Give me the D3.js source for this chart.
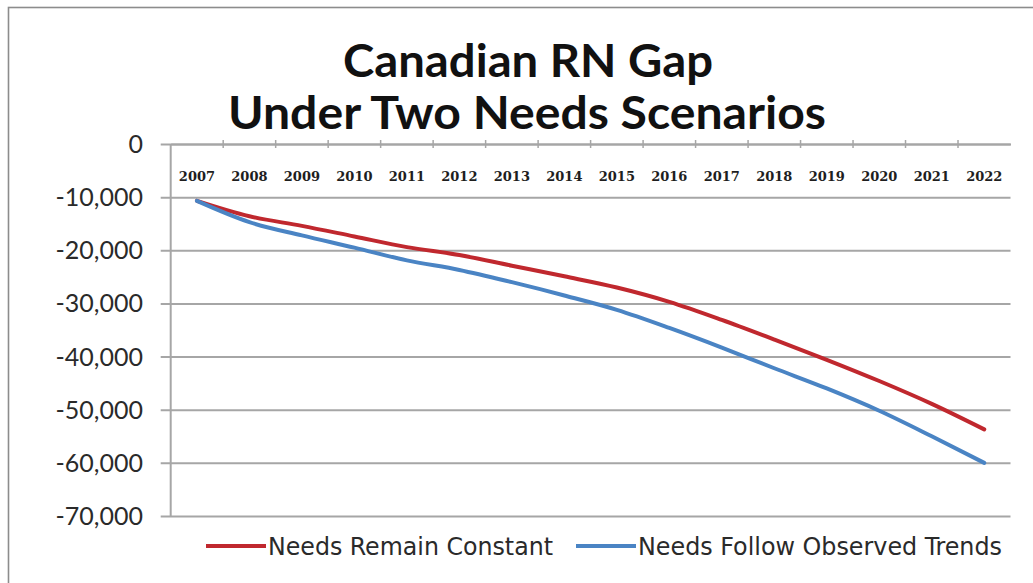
<!DOCTYPE html>
<html>
<head>
<meta charset="utf-8">
<script src="https://cdn.jsdelivr.net/npm/d3@7/dist/d3.min.js"></script>
<style>
  html, body { margin: 0; padding: 0; background: #fff; }
  svg { display: block; }
</style>
</head>
<body>
<svg id="chart" width="1033" height="583"></svg>
<script>
// ---- data ----
const years = ["2007","2008","2009","2010","2011","2012","2013","2014","2015","2016","2017","2018","2019","2020","2021","2022"];
const needsConstant = [-10700,-13600,-15400,-17400,-19400,-20900,-22900,-24900,-27000,-29700,-33100,-36800,-40600,-44600,-48900,-53700];
const needsTrends   = [-10700,-14700,-17200,-19500,-21900,-23700,-26000,-28500,-31200,-34600,-38300,-42200,-46000,-50200,-55000,-60000];
const yTicks = [0,-10000,-20000,-30000,-40000,-50000,-60000,-70000];
const seriesNames = ["Needs Remain Constant","Needs Follow Observed Trends"];
const titleLines = ["Canadian RN Gap","Under Two Needs Scenarios"];

const colors = ["#c0282e", "#4a84c4"];

const svg = d3.select("#chart");

// outer frame (only left & top visible)
svg.append("rect").attr("x", 8.5).attr("y", 7.5).attr("width", 1100).attr("height", 700)
  .attr("fill", "none").attr("stroke", "#8c8c8c").attr("stroke-width", 1.6);

const pLeft = 170.7, pRight = 1010.5, pTop = 144, pBottom = 516;

const x = d3.scaleBand().domain(years).range([pLeft, pRight]).paddingInner(0).paddingOuter(0);
const y = d3.scaleLinear().domain([0, -70000]).range([pTop, pBottom]);

// gridlines via axis
const yAxis = d3.axisLeft(y).tickValues(yTicks).tickSize(-(pRight - pLeft)).tickFormat("");
const gy = svg.append("g").attr("transform", `translate(${pLeft},0)`).call(yAxis);
gy.select(".domain").remove();
gy.selectAll(".tick line").attr("stroke", "#a6a6a6").attr("stroke-width", 2).attr("x1", -10);

// y labels
const fmt = d3.format(",");
svg.append("g").selectAll("text").data(yTicks).join("text")
  .attr("x", 143).attr("y", d => y(d)).attr("dy", "0.36em")
  .attr("text-anchor", "end")
  .attr("font-family", "Lato, 'Open Sans', sans-serif")
  .attr("font-size", 25)
  .attr("fill", "#2a2a2a")
  .text(d => d === 0 ? "0" : "-" + fmt(Math.abs(d)));

// vertical axis line
svg.append("line").attr("x1", pLeft).attr("x2", pLeft).attr("y1", pTop).attr("y2", pBottom)
  .attr("stroke", "#a6a6a6").attr("stroke-width", 2);

// category axis at 0 with cross tick marks
const xAxis = d3.axisTop(x).tickSizeOuter(0).tickSize(0).tickFormat("");
const gx = svg.append("g").attr("transform", `translate(0,${pTop})`).call(xAxis);
gx.select(".domain").attr("stroke", "#a6a6a6").attr("stroke-width", 2);
gx.selectAll(".tick").remove();
const boundaries = years.slice(1).map(d => x(d));
svg.append("g").selectAll("line").data(boundaries).join("line")
  .attr("x1", d => d).attr("x2", d => d).attr("y1", pTop - 4).attr("y2", pTop + 4)
  .attr("stroke", "#a6a6a6").attr("stroke-width", 1.5);

// category labels
svg.append("g").selectAll("text").data(years).join("text")
  .attr("x", d => x(d) + x.bandwidth() / 2).attr("y", 181)
  .attr("text-anchor", "middle")
  .attr("font-family", "'DejaVu Serif', serif")
  .attr("font-weight", "bold")
  .attr("font-size", 13)
  .attr("fill", "#1e1e1e")
  .text(d => d);

// lines
const line = d3.line()
  .x((d, i) => x(years[i]) + x.bandwidth() / 2)
  .y(d => y(d))
  .curve(d3.curveMonotoneX);

[needsConstant, needsTrends].forEach((s, k) => {
  svg.append("path").datum(s).attr("d", line)
    .attr("fill", "none").attr("stroke", colors[k]).attr("stroke-width", 4)
    .attr("stroke-linejoin", "round").attr("stroke-linecap", "round");
});

// title
const titleY = [77, 129];
const titleW = [370, 598];
const titleX = [528, 527];
titleLines.forEach((t, i) => {
  svg.append("text").attr("x", titleX[i]).attr("y", titleY[i])
    .attr("text-anchor", "middle")
    .attr("font-family", "Lato, 'Open Sans', sans-serif")
    .attr("font-weight", "bold").attr("font-size", 45)
    .attr("fill", "#111")
    .attr("textLength", titleW[i]).attr("lengthAdjust", "spacingAndGlyphs")
    .text(t);
});

// legend
const legX = [206, 576];
const legTextW = [285, 364];
seriesNames.forEach((n, i) => {
  svg.append("line").attr("x1", legX[i]).attr("x2", legX[i] + 60).attr("y1", 546).attr("y2", 546)
    .attr("stroke", colors[i]).attr("stroke-width", 4);
  svg.append("text").attr("x", legX[i] + 62).attr("y", 555)
    .attr("font-family", "'DejaVu Sans Condensed', 'Liberation Sans Narrow', 'Roboto', sans-serif")
    .attr("font-stretch", "condensed")
    .attr("font-size", 24).attr("fill", "#2a2a2a")
    .attr("textLength", legTextW[i]).attr("lengthAdjust", "spacingAndGlyphs")
    .text(n);
});
</script>
</body>
</html>
